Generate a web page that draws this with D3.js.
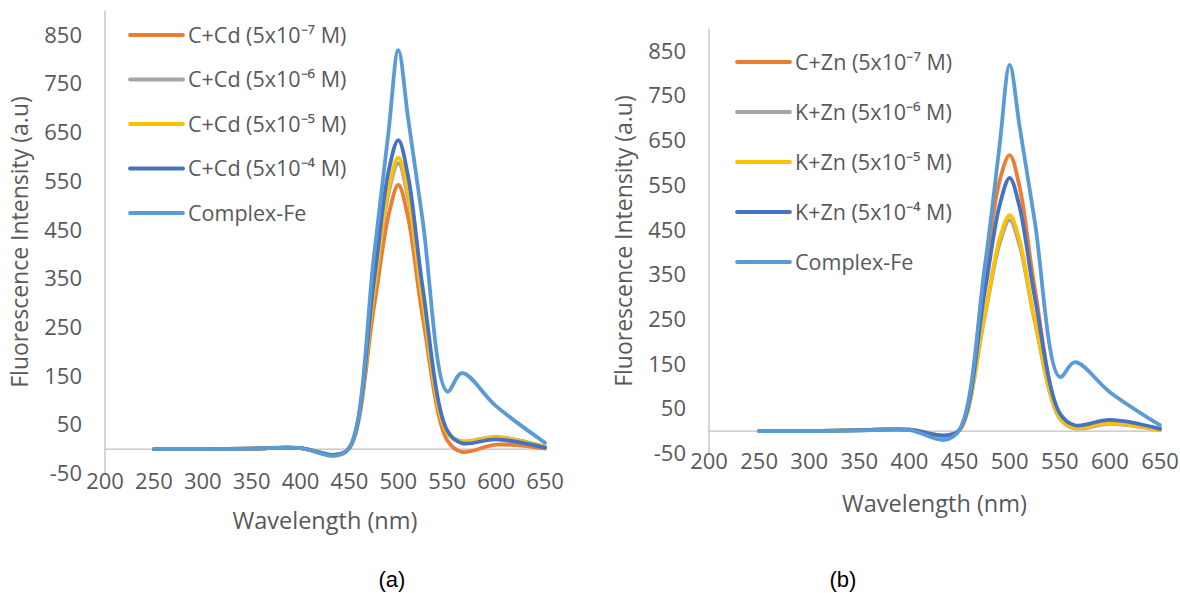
<!DOCTYPE html>
<html>
<head>
<meta charset="utf-8">
<script src="https://cdn.jsdelivr.net/npm/d3@7"></script>
<style>
    body { margin: 0; background: #ffffff; }
    svg text { font-family: "Open Sans", sans-serif; fill: #595959; }
</style>
</head>
<body>
<svg id="fig" width="1180" height="593"></svg>
<script>
/*
    Wavelengths (nm) where every spectrum was sampled
*/
var wavelengths = [250, 300, 350, 400, 435, 450, 475, 490, 500, 510, 525, 550, 565, 600, 650];
/*
    Axis ticks shared by both panels
*/
var xTicks = [200, 250, 300, 350, 400, 450, 500, 550, 600, 650];
var yTicks = [-50, 50, 150, 250, 350, 450, 550, 650, 750, 850];
/*
    Panel (a): complex + Cd
*/
var cdLabels = ["C+Cd (5x10\u207B\u2077 M)", "C+Cd (5x10\u207B\u2076 M)",
    "C+Cd (5x10\u207B\u2075 M)", "C+Cd (5x10\u207B\u2074 M)", "Complex-Fe"];
var cd7 = [0, 0, 1, 2, -12, 2, 290, 480, 542, 475, 270, 18, -6, 9, 1];
var cd6 = [0, 0, 1, 2, -12, 3, 320, 525, 587, 515, 300, 35, 16, 25, 5];
var cd5 = [0, 0, 1, 2, -12, 3, 325, 535, 598, 525, 305, 33, 15, 24, 4];
var cd4 = [0, 0, 1, 2, -12, 3, 345, 570, 634, 560, 330, 38, 12, 20, 3];
var feA = [0, 0, 1, 2, -14, 3, 395, 652, 819, 679, 468, 118, 156, 88, 13];
/*
    Panel (b): complex + Zn
*/
var znLabels = ["C+Zn (5x10\u207B\u2077 M)", "K+Zn (5x10\u207B\u2076 M)",
    "K+Zn (5x10\u207B\u2075 M)", "K+Zn (5x10\u207B\u2074 M)", "Complex-Fe"];
var zn7 = [0, 0, 2, 3, -10, 3, 345, 560, 617, 545, 320, 35, 10, 20, 3];
var zn6 = [0, 0, 2, 3, -10, 2, 255, 420, 472, 415, 245, 28, 6, 16, 2];
var zn5 = [0, 0, 2, 3, -10, 2, 260, 430, 483, 425, 250, 30, 7, 18, 2];
var zn4 = [0, 0, 2, 3, -10, 3, 310, 505, 566, 500, 300, 40, 13, 25, 5];
var feB = [0, 0, 1, 2, -20, 3, 365, 640, 819, 680, 470, 121, 154, 87, 13];
/*
    Office palette, same order as the legend
*/
var colors = ["#ED7D31", "#A5A5A5", "#FFC000", "#4472C4", "#5B9BD5"];

var svg = d3.select("#fig");

/*
    Panel layout: plot box, legend placement and caption positions
*/
var panels = [
    { series: [cd7, cd6, cd5, cd4, feA], labels: cdLabels,
      left: 105, right: 545, top: 10.6, bottom: 473.4, titleGap: 47,
      legX: 130, legY: 35, legStep: 44.5, caption: "(a)", capX: 392 },
    { series: [zn7, zn6, zn5, zn4, feB], labels: znLabels,
      left: 709, right: 1160, top: 28.7, bottom: 453.4, titleGap: 50,
      legX: 737, legY: 62, legStep: 50, caption: "(b)", capX: 843 }
];

panels.forEach(drawPanel);

function drawPanel(p) {
    var x = d3.scaleLinear().domain([200, 650]).range([p.left, p.right]);
    var y = d3.scaleLinear().domain([-50, 900]).range([p.bottom, p.top]);
    var g = svg.append("g");

    /*
        Axis lines: vertical at 200 nm, horizontal at zero
    */
    g.append("line")
        .attr("x1", x(200)).attr("x2", x(200))
        .attr("y1", y(900)).attr("y2", y(-50))
        .style("stroke", "#BFBFBF").style("stroke-width", 1.3);
    g.append("line")
        .attr("x1", x(200)).attr("x2", x(650))
        .attr("y1", y(0)).attr("y2", y(0))
        .style("stroke", "#BFBFBF").style("stroke-width", 1.3);

    /*
        Tick labels
    */
    g.selectAll(".yt").data(yTicks).enter().append("text")
        .attr("x", p.left - 23)
        .attr("y", function (d) { return y(d); })
        .attr("dy", "0.35em")
        .attr("text-anchor", "end")
        .style("font-size", "22px")
        .text(function (d) { return d; });
    g.selectAll(".xt").data(xTicks).enter().append("text")
        .attr("x", function (d) { return x(d); })
        .attr("y", p.bottom + 8)
        .attr("dy", "0.35em")
        .attr("text-anchor", "middle")
        .style("font-size", "22px")
        .text(function (d) { return d; });

    /*
        Axis titles and panel caption
    */
    g.append("text")
        .attr("x", (p.left + p.right) / 2)
        .attr("y", p.bottom + p.titleGap)
        .attr("dy", "0.35em")
        .attr("text-anchor", "middle")
        .style("font-size", "23.5px")
        .text("Wavelength (nm)");
    g.append("text")
        .attr("transform", "translate(" + (p.left - 85) + "," + ((p.top + p.bottom) / 2) + ") rotate(-90)")
        .attr("dy", "0.35em")
        .attr("text-anchor", "middle")
        .style("font-size", "23px")
        .text("Fluorescence Intensity (a.u)");
    svg.append("text")
        .attr("x", p.capX)
        .attr("y", 579)
        .attr("dy", "0.35em")
        .attr("text-anchor", "middle")
        .style("font-family", "'Liberation Sans', Arial, sans-serif")
        .style("font-size", "22px")
        .style("fill", "#000")
        .text(p.caption);

    /*
        Smoothed spectra, light blue reference drawn last
    */
    var line = d3.line()
        .x(function (d, i) { return x(wavelengths[i]); })
        .y(function (d) { return y(d); })
        .curve(d3.curveCatmullRom);
    g.selectAll(".spec").data(p.series).enter().append("path")
        .attr("d", line)
        .style("fill", "none")
        .style("stroke", function (d, i) { return colors[i]; })
        .style("stroke-width", 3.8)
        .style("stroke-linejoin", "round")
        .style("stroke-linecap", "round");

    /*
        Legend
    */
    var leg = g.selectAll(".leg").data(p.labels).enter().append("g")
        .attr("transform", function (d, i) { return "translate(" + p.legX + "," + (p.legY + i * p.legStep) + ")"; });
    leg.append("line")
        .attr("x1", 0).attr("x2", 53)
        .style("stroke", function (d, i) { return colors[i]; })
        .style("stroke-width", 3.8)
        .style("stroke-linecap", "round");
    leg.append("text")
        .attr("x", 58)
        .attr("dy", "0.35em")
        .style("font-size", "21.5px")
        .text(function (d) { return d; });
}
</script>
</body>
</html>
